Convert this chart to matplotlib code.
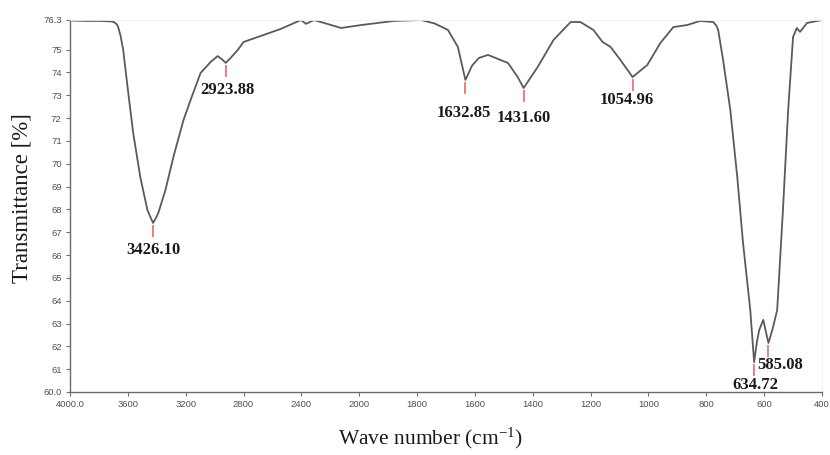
import numpy as np
import matplotlib
matplotlib.use("Agg")
import matplotlib.pyplot as plt

# ---- data ----
wavenumber = [4000, 3896, 3792, 3722, 3700, 3688, 3675, 3667, 3650, 3632, 3597, 3563,
              3514, 3465, 3441, 3426.10, 3406, 3389, 3340, 3285, 3215, 3167, 3097,
              3050, 3028, 2979, 2944, 2923.88, 2889, 2840, 2799, 2681, 2542, 2403,
              2368, 2313, 2125, 1993, 1879, 1786, 1740, 1707, 1693, 1659, 1632.85,
              1610, 1586, 1555, 1486, 1452, 1431.60, 1383, 1328, 1269, 1235, 1190,
              1159, 1131, 1097, 1054.96, 1004, 959, 914, 866, 821, 776, 765, 759,
              742, 717, 693, 673, 648, 634.72, 625, 617, 603, 590, 585.08, 570, 555,
              535, 517, 500, 487, 476, 452, 400]
transmittance = [76.28, 76.26, 76.26, 76.24, 76.22, 76.17, 76.10, 75.99, 75.60, 74.98,
                 73.10, 71.35, 69.42, 67.98, 67.62, 67.41, 67.62, 67.85, 68.85, 70.30,
                 71.92, 72.78, 73.98, 74.30, 74.46, 74.72, 74.55, 74.42, 74.64, 74.99,
                 75.34, 75.60, 75.91, 76.30, 76.13, 76.30, 75.95, 76.08, 76.26, 76.30,
                 76.15, 75.95, 75.86, 75.12, 73.67, 74.30, 74.64, 74.77, 74.42, 73.80,
                 73.32, 74.24, 75.43, 76.21, 76.21, 75.86, 75.34, 75.12, 74.55, 73.80,
                 74.33, 75.29, 75.99, 76.08, 76.26, 76.21, 76.05, 75.86, 74.55, 72.36,
                 69.42, 66.53, 63.59, 61.31, 62.20, 62.72, 63.16, 62.41, 62.15, 62.80,
                 63.59, 67.98, 72.36, 75.56, 75.95, 75.78, 76.17, 76.30]

peak_wn = [3426.10, 2923.88, 1632.85, 1431.60, 1054.96, 634.72, 585.08]
peak_t = [67.41, 74.42, 73.67, 73.32, 73.80, 61.31, 62.15]
peak_labels = ["3426.10", "2923.88", "1632.85", "1431.60", "1054.96", "634.72", "585.08"]
# label offsets in pixels relative to the peak minimum
label_offsets = [(0, -27), (2, -27), (-2, -33), (0, -30), (-6, -23), (1, -23), (12, -22)]

x_ticks = [4000, 3600, 3200, 2800, 2400, 2000, 1800, 1600, 1400, 1200, 1000, 800, 600, 400]
x_ticklabels = ["4000.0", "3600", "3200", "2800", "2400", "2000", "1800", "1600",
                "1400", "1200", "1000", "800", "600", "400"]
y_ticks = [76.3, 75, 74, 73, 72, 71, 70, 69, 68, 67, 66, 65, 64, 63, 62, 61, 60]
y_ticklabels = ["76.3", "75", "74", "73", "72", "71", "70", "69", "68", "67", "66",
                "65", "64", "63", "62", "61", "60.0"]

plt.rcParams['mathtext.fontset'] = 'custom'
plt.rcParams['mathtext.rm'] = 'Liberation Serif'
plt.rcParams['mathtext.it'] = 'Liberation Serif:italic'

fig = plt.figure(figsize=(8.30, 4.55), dpi=100)
ax = fig.add_axes([70/830, 1-392/455, (822-70)/830, (392-20)/455])

def fwd(x):
    x = np.asarray(x, dtype=float)
    return np.where(x >= 2000, x, 2*x - 2000)

def inv(u):
    u = np.asarray(u, dtype=float)
    return np.where(u >= 2000, u, (u + 2000) / 2)

ax.set_xscale('function', functions=(fwd, inv))
ax.plot(wavenumber, transmittance, color='#5a5a5a', lw=1.3, solid_joinstyle='round')
ax.set_xlim(4000, 400)
ax.set_ylim(60, 76.3)

ax.set_xticks(x_ticks)
ax.set_xticklabels(x_ticklabels)
ax.set_yticks(y_ticks)
ax.set_yticklabels(y_ticklabels)
ax.minorticks_off()
ax.tick_params(axis='both', labelsize=6.8, colors='#707070', labelcolor='#505050',
               length=3, width=0.8, pad=3)
for t in ax.get_xticklabels() + ax.get_yticklabels():
    t.set_fontfamily('Liberation Sans')

for s in ['left', 'bottom']:
    ax.spines[s].set_color('#6a6a6a')
    ax.spines[s].set_linewidth(1.0)
for s in ['top', 'right']:
    ax.spines[s].set_color('#f0f0f0')
    ax.spines[s].set_linewidth(0.6)

ppu = (392 - 20) / 16.3  # pixels per transmittance unit
for wn, t, lab, (dx, dy) in zip(peak_wn, peak_t, peak_labels, label_offsets):
    ax.plot([wn, wn], [t - 2/ppu, t - 14/ppu], color='#e86a6a', lw=1.2,
            solid_capstyle='butt', clip_on=False)
    ax.annotate(lab, xy=(wn, t), xytext=(dx, dy), textcoords='offset pixels',
                ha='center', va='center', fontsize=12, fontweight='bold',
                family='Liberation Serif', color='#1a1a1a', annotation_clip=False)

fig.text(22/830, 1-198/455, 'Transmittance [%]', rotation=90, ha='center', va='center',
         fontsize=16.5, family='Liberation Serif', color='#1a1a1a')
fig.text(430/830, 1-438/455, r'Wave number (cm$^{-1}$)', ha='center', va='center',
         fontsize=15.5, family='Liberation Serif', color='#1a1a1a')

fig.savefig('out.png', dpi=100)
